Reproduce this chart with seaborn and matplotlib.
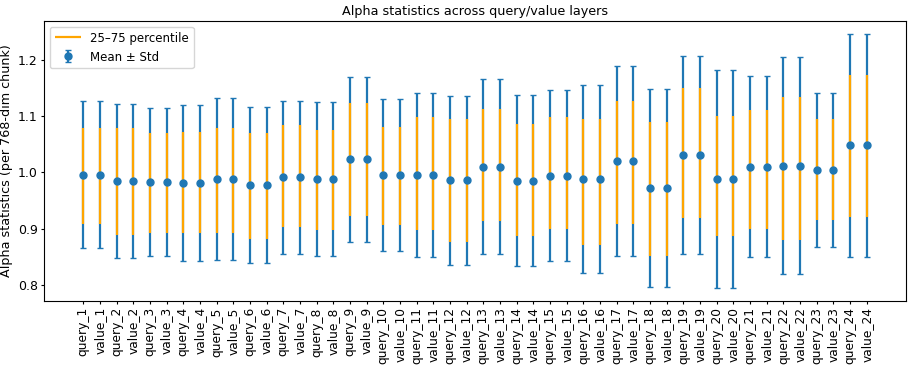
import numpy as np
import seaborn as sns
import matplotlib
matplotlib.use("Agg")
import matplotlib.pyplot as plt

# per-layer stats (query_i and value_i come out identical in the reference)
layers = list(range(1, 25))
mean = [0.996, 0.984, 0.983, 0.981, 0.988, 0.977, 0.991, 0.988, 1.023, 0.995, 0.995, 0.986,
        1.010, 0.985, 0.994, 0.988, 1.020, 0.972, 1.031, 0.988, 1.010, 1.012, 1.004, 1.048]
std = [0.131, 0.137, 0.132, 0.139, 0.143, 0.139, 0.136, 0.137, 0.147, 0.135, 0.146, 0.150,
       0.155, 0.152, 0.152, 0.167, 0.168, 0.176, 0.176, 0.194, 0.161, 0.193, 0.136, 0.198]
q25 = [0.908, 0.889, 0.892, 0.892, 0.893, 0.882, 0.903, 0.898, 0.922, 0.907, 0.897, 0.877,
       0.914, 0.886, 0.899, 0.870, 0.909, 0.851, 0.918, 0.886, 0.900, 0.880, 0.916, 0.920]
q75 = [1.079, 1.079, 1.070, 1.072, 1.079, 1.070, 1.084, 1.075, 1.123, 1.081, 1.098, 1.094,
       1.113, 1.085, 1.098, 1.095, 1.127, 1.090, 1.149, 1.100, 1.110, 1.133, 1.095, 1.172]

names = [f"{kind}_{i}" for i in layers for kind in ("query", "value")]
mean_all = np.repeat(mean, 2)
std_all = np.repeat(std, 2)
q25_all = np.repeat(q25, 2)
q75_all = np.repeat(q75, 2)

blue = sns.color_palette("tab10")[0]

fig, ax = plt.subplots(figsize=(9.13, 3.66), dpi=100)
x = np.arange(len(names))

ax.vlines(x, q25_all, q75_all, color="orange", lw=1.6, label="25–75 percentile", zorder=3)
eb = ax.errorbar(x, mean_all, yerr=std_all, fmt="o", color=blue, ms=5,
                 elinewidth=1.6, capsize=2, label="Mean ± Std")
eb[0].set_zorder(4)

ax.set_xticks(x)
ax.set_xticklabels(names, rotation=90, fontsize=8.8)
ax.set_yticks([0.8, 0.9, 1.0, 1.1, 1.2])
ax.tick_params(axis="both", length=2.5, pad=2)
ax.tick_params(axis="y", labelsize=9)
ax.set_ylabel("Alpha statistics (per 768-dim chunk)", fontsize=9.2)
ax.yaxis.set_label_coords(-0.036, 0.5)
ax.set_title("Alpha statistics across query/value layers", fontsize=9.2, pad=4)
ax.legend(loc="upper left", fontsize=8.5, handlelength=2.2)

fig.subplots_adjust(left=44/913, right=906/913, top=1-21/366, bottom=1-301/366)
fig.savefig("out.png", dpi=100)
